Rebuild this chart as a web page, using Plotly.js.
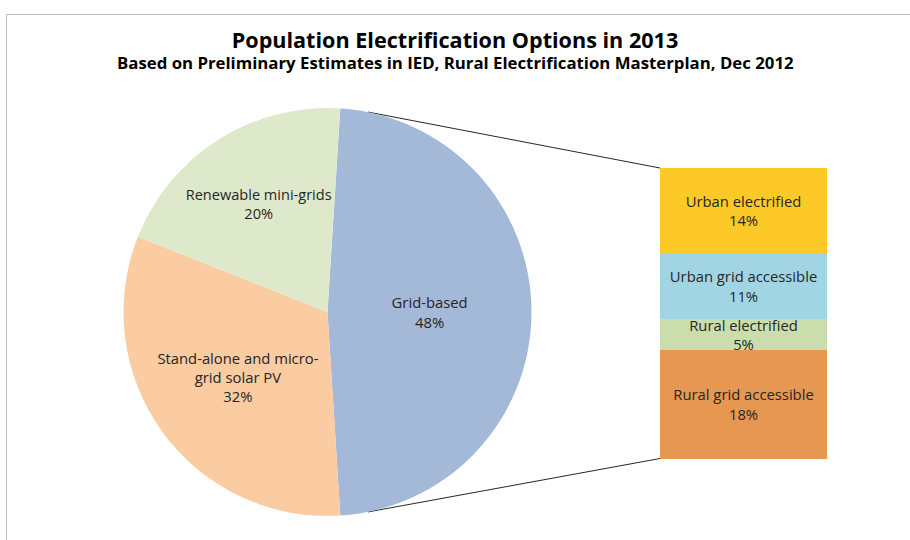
<!DOCTYPE html>
<html>
<head>
<meta charset="utf-8">
<script src="https://cdn.plot.ly/plotly-3.0.1.min.js"></script>
<style>html,body{margin:0;padding:0;background:#fff;}#chart{width:910px;height:540px;}</style>
</head>
<body>
<div id="chart"></div>
<script>
// ---- data ----
const pieLabels = ["Grid-based", "Stand-alone and micro-<br>grid solar PV", "Renewable mini-grids"];
const pieValues = [48, 32, 20];
const pieColors = ["#A4B8D8", "#FBCBA2", "#DEE8CA"];

// bar segments, bottom to top
const barLabels = ["Rural grid accessible", "Rural electrified", "Urban grid accessible", "Urban electrified"];
const barValues = [18, 5, 11, 14];
const barColors = ["#E69751", "#CCDDAD", "#A2D5E3", "#FDC926"];

const titleText = "Population Electrification Options in 2013";
const subtitleText = "Based on Preliminary Estimates in IED, Rural Electrification Masterplan, Dec 2012";

// ---- geometry (pixels) ----
const W = 910, H = 540;
const pieCx = 327.5, pieCy = 312, pieR = 204;
const barLeftPx = 660, barRightPx = 827, barTopPx = 168, barBotPx = 458.5;
const connStartX = 368;

const barTotal = barValues.reduce((a, b) => a + b, 0);
const pxPerUnit = (barBotPx - barTopPx) / barTotal;
const yMin = -(H - barBotPx) / pxPerUnit;
const yMax = barTotal + barTopPx / pxPerUnit;
const xMinData = -(barLeftPx - connStartX) / (barRightPx - barLeftPx);

const dy = Math.sqrt(pieR * pieR - (connStartX - pieCx) * (connStartX - pieCx));
const connTopY = barTotal + (barTopPx - (pieCy - dy)) / pxPerUnit;
const connBotY = -((pieCy + dy) - barBotPx) / pxPerUnit;

const font = "'Open Sans', Lato, sans-serif";
const textColor = "#262626";
const labelSize = 14.8;

const traces = [];
traces.push({
  type: "pie",
  labels: pieLabels,
  values: pieValues,
  sort: false,
  direction: "clockwise",
  rotation: 90 - 360 * (pieValues[0] / 100) / 2, // first slice centred on 3 o'clock
  marker: {colors: pieColors, line: {width: 0}},
  textinfo: "label+percent",
  textposition: "inside",
  insidetextorientation: "horizontal",
  textfont: {family: font, size: labelSize, color: textColor},
  domain: {
    x: [(pieCx - pieR) / W, (pieCx + pieR) / W],
    y: [1 - (pieCy + pieR) / H, 1 - (pieCy - pieR) / H]
  },
  showlegend: false,
  hoverinfo: "label+percent"
});

for (let i = 0; i < barLabels.length; i++) {
  traces.push({
    type: "bar",
    x: [0.5],
    y: [barValues[i]],
    width: [1],
    name: barLabels[i],
    marker: {color: barColors[i], line: {width: 0}},
    text: [barLabels[i] + "<br>" + barValues[i] + "%"],
    texttemplate: "%{text}",
    textposition: "inside",
    insidetextanchor: "middle",
    textangle: 0,
    constraintext: "none",
    textfont: {family: font, size: labelSize, color: textColor},
    xaxis: "x", yaxis: "y",
    showlegend: false,
    hoverinfo: "name+y"
  });
}

traces.push({
  type: "scatter", mode: "lines",
  x: [xMinData, 0, null, xMinData, 0],
  y: [connTopY, barTotal, null, connBotY, 0],
  line: {color: "#262626", width: 1},
  hoverinfo: "skip", showlegend: false,
  xaxis: "x", yaxis: "y", cliponaxis: false
});

const layout = {
  width: W, height: H,
  margin: {l: 0, r: 0, t: 0, b: 0},
  paper_bgcolor: "#ffffff", plot_bgcolor: "rgba(0,0,0,0)",
  font: {family: font, color: textColor},
  barmode: "stack",
  bargap: 0,
  title: {
    text: "<b>" + titleText + "</b>",
    font: {family: font, size: 21.6, color: "#000000"},
    x: 0.5, xanchor: "center", y: 1 - 40 / H, yanchor: "middle", yref: "paper"
  },
  annotations: [{
    text: "<b>" + subtitleText + "</b>",
    xref: "paper", yref: "paper", x: 0.5, y: 1 - 62 / H,
    xanchor: "center", yanchor: "middle", showarrow: false,
    font: {family: font, size: 16.8, color: "#000000"}
  }],
  xaxis: {
    domain: [connStartX / W, barRightPx / W],
    range: [xMinData, 1],
    visible: false, fixedrange: true
  },
  yaxis: {
    domain: [0, 1],
    range: [yMin, yMax],
    visible: false, fixedrange: true
  },
  shapes: [{
    type: "rect", xref: "paper", yref: "paper",
    x0: 6.5 / W, x1: 1.2, y0: -0.2, y1: 1 - 14.5 / H,
    line: {color: "#BFBFBF", width: 1}, layer: "below"
  }]
};

Plotly.newPlot("chart", traces, layout, {staticPlot: true, displayModeBar: false});
</script>
</body>
</html>
